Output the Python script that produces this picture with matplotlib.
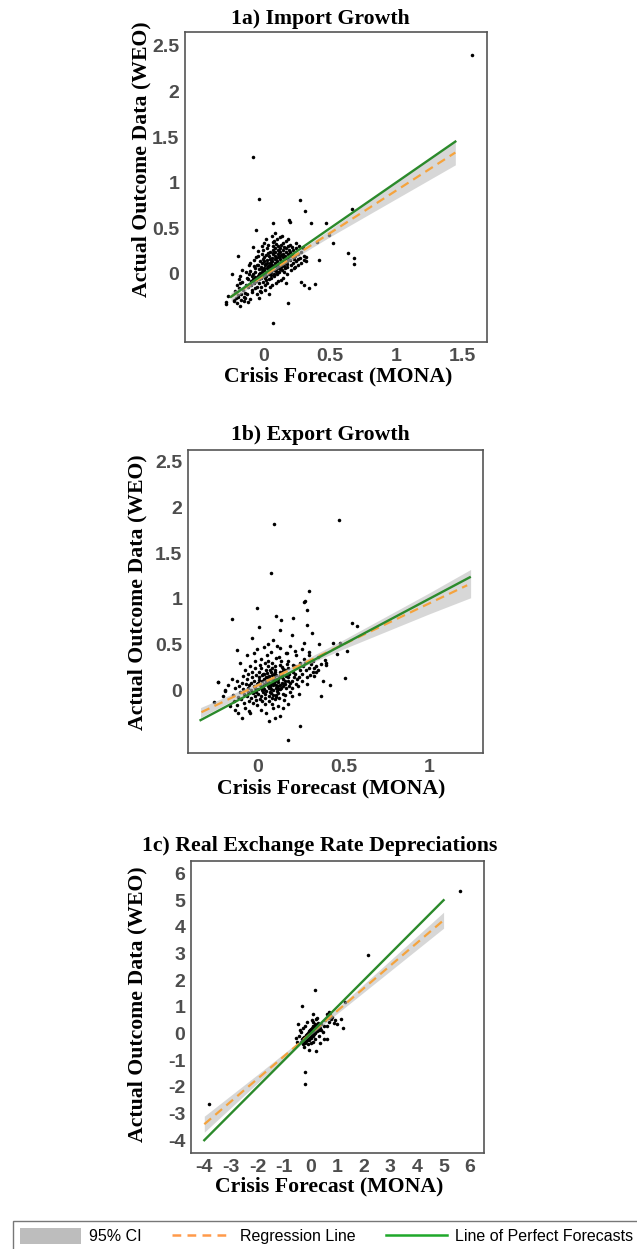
import numpy as np
import matplotlib
matplotlib.use("Agg")
import matplotlib.pyplot as plt
from matplotlib.patches import Patch
from matplotlib.lines import Line2D

plt.rcParams['axes.unicode_minus'] = False

# ---- 1a) import growth: (forecast, outcome) pairs
imp_pts = [
    (1.58, 2.40), (-0.086, 1.28), (-0.038, 0.82), (0.27, 0.81), (0.31, 0.69), (0.67, 0.71),
    (-0.06, 0.48), (0.07, 0.56), (0.19, 0.59), (0.20, 0.57), (0.36, 0.56), (0.40, 0.35),
    (0.47, 0.56), (0.49, 0.43), (0.52, 0.34), (0.64, 0.23), (0.68, 0.18), (0.68, 0.11),
    (0.42, 0.15), (0.39, -0.11), (0.34, -0.15), (0.30, -0.12), (0.28, -0.09), (0.18, -0.32),
    (0.066, -0.54), (-0.20, 0.20), (-0.24, 0.0), (-0.29, -0.31), (-0.29, -0.33), (-0.27, -0.24),
    (-0.18, -0.35), (-0.20, -0.23), (-0.23, -0.28),
    (-0.221, -0.182), (-0.214, -0.268), (-0.226, -0.301), (-0.205, -0.118),
    (-0.197, -0.247), (-0.203, -0.322), (-0.192, -0.051), (-0.188, -0.152),
    (-0.176, -0.221), (-0.183, -0.097), (-0.171, -0.284), (-0.179, -0.018),
    (-0.158, -0.176), (-0.163, -0.083), (-0.152, -0.297), (-0.167, 0.047), (-0.149, -0.251),
    (-0.138, -0.122), (-0.143, -0.204), (-0.133, 0.021), (-0.146, -0.262), (-0.129, -0.048),
    (-0.118, -0.147), (-0.123, -0.052), (-0.114, 0.098), (-0.127, -0.219), (-0.111, 0.004), (-0.119, -0.303),
    (-0.097, -0.081), (-0.104, 0.037), (-0.093, -0.178), (-0.108, 0.121), (-0.099, -0.118), (-0.091, -0.021),
    (-0.102, -0.279), (-0.078, -0.098), (-0.084, 0.003), (-0.073, 0.082), (-0.087, -0.197), (-0.076, 0.148),
    (-0.081, -0.053), (-0.069, -0.149), (-0.083, 0.297), (-0.058, -0.041), (-0.064, 0.062), (-0.055, -0.138),
    (-0.061, 0.183), (-0.052, -0.218), (-0.066, 0.018), (-0.057, -0.079), (-0.049, 0.103),
    (-0.038, 0.002), (-0.043, 0.099), (-0.035, -0.102), (-0.046, 0.201), (-0.032, -0.181), (-0.041, 0.052),
    (-0.036, -0.058), (-0.029, 0.139), (-0.044, 0.248), (-0.039, -0.262),
    (-0.018, 0.021), (-0.024, -0.048), (-0.015, 0.118), (-0.021, -0.142), (-0.012, 0.223), (-0.026, 0.071),
    (-0.017, -0.022), (-0.009, 0.162), (-0.023, -0.201), (-0.014, 0.301),
    (0.002, 0.041), (-0.004, -0.083), (0.006, 0.101), (-0.001, 0.003), (0.004, 0.182), (0.008, -0.118),
    (-0.006, 0.262), (0.001, 0.062), (0.009, -0.041), (0.003, 0.141), (-0.003, 0.338), (0.007, -0.179),
    (0.021, 0.062), (0.017, -0.021), (0.024, 0.122), (0.019, 0.203), (0.026, -0.098), (0.014, 0.019),
    (0.022, 0.281), (0.028, 0.091), (0.016, -0.061), (0.025, 0.152), (0.018, 0.381),
    (0.041, 0.083), (0.037, 0.002), (0.044, 0.161), (0.036, -0.058), (0.046, 0.241), (0.039, 0.041),
    (0.043, 0.118), (0.048, -0.139), (0.034, 0.322), (0.047, 0.101), (0.038, 0.198), (0.042, -0.221),
    (0.061, 0.102), (0.057, 0.018), (0.064, 0.179), (0.056, -0.041), (0.066, 0.262), (0.054, 0.061),
    (0.063, 0.142), (0.068, 0.351), (0.059, -0.121), (0.065, 0.219), (0.058, 0.079), (0.062, 0.418),
    (0.081, 0.121), (0.077, 0.041), (0.084, 0.198), (0.076, -0.019), (0.086, 0.279), (0.074, 0.082),
    (0.083, 0.161), (0.088, -0.098), (0.079, 0.362), (0.085, 0.241), (0.078, 0.003), (0.082, 0.452),
    (0.101, 0.139), (0.097, 0.062), (0.104, 0.221), (0.096, 0.001), (0.106, 0.302), (0.094, 0.099),
    (0.103, 0.182), (0.108, -0.079), (0.099, 0.381), (0.105, 0.262), (0.098, 0.022),
    (0.121, 0.161), (0.117, 0.079), (0.124, 0.239), (0.116, 0.018), (0.126, 0.318), (0.114, 0.121),
    (0.123, 0.201), (0.128, -0.061), (0.119, 0.401), (0.125, 0.052), (0.118, 0.281),
    (0.141, 0.182), (0.137, 0.098), (0.144, 0.262), (0.136, 0.041), (0.146, 0.341), (0.134, 0.138),
    (0.143, -0.042), (0.148, 0.219), (0.139, 0.421),
    (0.161, 0.201), (0.157, 0.118), (0.164, 0.279), (0.156, 0.061), (0.166, 0.362), (0.154, 0.019),
    (0.163, 0.161), (0.168, -0.101),
    (0.181, 0.222), (0.177, 0.139), (0.184, 0.301), (0.176, 0.079), (0.186, 0.378), (0.174, 0.002),
    (0.183, 0.179), (0.201, 0.241), (0.197, 0.158), (0.204, 0.101), (0.196, 0.318), (0.206, 0.041),
    (0.203, 0.198), (0.221, 0.259), (0.217, 0.181), (0.224, 0.119), (0.216, 0.298), (0.226, 0.062),
    (0.241, 0.281), (0.237, 0.202), (0.244, 0.141), (0.236, 0.081), (0.246, 0.338),
    (0.261, 0.219), (0.257, 0.161), (0.264, 0.302), (0.256, 0.098),
    (0.281, 0.238), (0.277, 0.179), (0.284, 0.121), (0.301, 0.199), (0.297, 0.281), (0.304, 0.148),
    (0.321, 0.181), (0.317, 0.139),
    # denser core of the blob
    (0.031, 0.071), (0.052, 0.131), (0.071, 0.052), (0.091, 0.171), (0.111, 0.089), (0.131, 0.211),
    (0.151, 0.142), (0.011, 0.111), (-0.011, 0.052), (0.072, 0.231), (0.093, 0.031), (0.112, 0.252),
    (0.132, 0.071), (0.152, 0.291), (0.171, 0.112), (0.051, -0.011), (0.029, 0.229), (0.009, -0.012),
    (-0.028, 0.011), (-0.048, -0.021), (-0.071, -0.028), (0.191, 0.262), (0.211, 0.221), (0.231, 0.161),
    (0.068, 0.301), (0.088, 0.331), (0.109, 0.021), (0.129, 0.131), (0.149, 0.082), (0.168, 0.242),
]
imp_reg_x = [-0.25, 1.45]
imp_reg_y = [-0.25, 1.33]
imp_perf = [-0.25, 1.45]
imp_band_x = [-0.25, 0.0, 0.1, 0.5, 1.0, 1.45]
imp_band_lo = [-0.295, -0.038, 0.057, 0.407, 0.822, 1.195]
imp_band_hi = [-0.205, 0.002, 0.093, 0.487, 1.002, 1.465]

# ---- 1b) export growth
exp_pts = [
    (0.095, 1.82), (0.475, 1.86), (0.08, 1.28), (0.30, 1.09), (0.28, 0.98), (0.27, 0.97),
    (0.29, 0.88), (0.0, 0.90), (-0.15, 0.78), (0.11, 0.81), (0.14, 0.77), (0.21, 0.79),
    (0.01, 0.69), (0.13, 0.66), (0.29, 0.71), (0.32, 0.63), (0.20, 0.60), (-0.03, 0.57),
    (-0.12, 0.44), (0.0, 0.45), (0.09, 0.55), (0.55, 0.73), (0.58, 0.70), (0.44, 0.51),
    (0.48, 0.52), (0.52, 0.43), (0.465, 0.40), (0.51, 0.135), (0.37, -0.06), (0.25, -0.39),
    (0.18, -0.55), (0.066, -0.34), (-0.087, -0.31), (-0.23, 0.09), (-0.25, -0.13), (-0.19, 0.0),
    (-0.04, -0.25), (0.36, 0.5), (0.395, 0.33), (0.40, 0.30), (0.33, 0.24), (0.33, 0.15),
    (-0.227, 0.09), (-0.19, -0.01), (-0.17, 0.05), (-0.16, -0.17), (-0.2, -0.06), (-0.15, 0.12),
    (-0.13, -0.22), (-0.11, -0.25), (-0.07, -0.2), (-0.05, -0.23), (0.02, -0.22), (0.05, -0.25),
    (0.09, -0.2), (0.12, -0.18), (0.15, -0.2), (0.18, -0.15), (0.13, -0.28), (0.1, -0.31),
    (0.06, 0.5), (0.13, 0.46), (0.17, 0.41), (0.22, 0.43), (0.26, 0.45), (0.3, 0.42), (0.35, 0.36),
    (0.27, 0.52), (0.19, 0.48), (0.04, 0.47), (-0.06, 0.38), (-0.1, 0.3), (-0.02, 0.41),
    (0.37, 0.28), (0.40, 0.27), (0.34, 0.2), (0.38, 0.1), (0.42, 0.05),
    (-0.142, -0.051), (-0.128, 0.021), (-0.136, -0.118), (-0.119, 0.102), (-0.112, -0.081),
    (-0.105, 0.042), (-0.121, -0.162), (-0.098, -0.021), (-0.089, 0.081), (-0.094, -0.102),
    (-0.082, 0.151), (-0.076, -0.041), (-0.086, 0.012), (-0.071, 0.221), (-0.079, -0.142),
    (-0.068, 0.062), (-0.058, -0.062), (-0.062, 0.121), (-0.054, 0.018), (-0.049, -0.118),
    (-0.057, 0.181), (-0.046, 0.052), (-0.052, -0.021), (-0.041, 0.262), (-0.038, 0.082),
    (-0.034, -0.082), (-0.029, 0.142), (-0.036, 0.001), (-0.026, -0.141), (-0.031, 0.201),
    (-0.022, 0.041), (-0.027, -0.038), (-0.018, 0.102), (-0.014, -0.061), (-0.009, 0.161),
    (-0.016, 0.021), (-0.006, -0.112), (-0.011, 0.238), (-0.003, 0.062), (-0.008, -0.019),
    (-0.012, 0.319), (0.002, 0.081), (0.006, -0.042), (0.011, 0.141), (0.004, 0.012),
    (0.014, -0.101), (0.009, 0.201), (0.017, 0.052), (0.001, -0.162), (0.013, 0.279), (0.007, 0.111),
    (0.021, 0.021), (0.026, 0.162), (0.019, -0.062), (0.029, 0.098), (0.023, 0.238), (0.031, -0.021),
    (0.018, 0.061), (0.027, -0.122), (0.033, 0.181), (0.024, 0.338), (0.028, 0.002),
    (0.041, 0.121), (0.046, -0.041), (0.039, 0.062), (0.049, 0.221), (0.043, -0.092), (0.051, 0.141),
    (0.038, 0.011), (0.047, 0.298), (0.053, 0.081), (0.044, -0.152), (0.036, 0.178), (0.052, -0.011),
    (0.061, 0.102), (0.066, 0.018), (0.059, 0.182), (0.069, -0.062), (0.063, 0.259), (0.071, 0.041),
    (0.058, 0.138), (0.067, -0.121), (0.073, 0.218), (0.064, 0.072), (0.056, 0.381), (0.072, -0.018),
    (0.062, 0.322), (0.081, 0.061), (0.086, 0.161), (0.079, -0.031), (0.089, 0.118), (0.083, 0.241),
    (0.091, 0.002), (0.078, 0.199), (0.087, -0.088), (0.093, 0.082), (0.084, 0.301), (0.076, 0.029),
    (0.092, 0.141), (0.082, 0.421), (0.088, -0.151), (0.101, 0.101), (0.106, 0.022), (0.099, 0.178),
    (0.109, -0.052), (0.103, 0.262), (0.111, 0.058), (0.098, 0.139), (0.107, 0.351), (0.113, -0.012),
    (0.104, 0.219), (0.096, 0.081), (0.112, 0.481), (0.102, -0.101), (0.121, 0.041), (0.126, 0.141),
    (0.119, -0.031), (0.129, 0.201), (0.123, 0.091), (0.131, 0.279), (0.118, 0.008), (0.127, -0.082),
    (0.133, 0.162), (0.124, 0.362), (0.116, 0.119), (0.132, 0.052), (0.141, 0.081), (0.146, 0.198),
    (0.139, 0.018), (0.149, -0.041), (0.143, 0.251), (0.151, 0.121), (0.138, 0.318), (0.147, 0.042),
    (0.153, -0.112), (0.144, 0.162), (0.161, 0.101), (0.166, 0.021), (0.159, 0.221), (0.169, 0.159),
    (0.163, -0.058), (0.171, 0.281), (0.158, 0.061), (0.167, 0.402), (0.181, 0.138), (0.186, 0.041),
    (0.179, 0.241), (0.189, -0.021), (0.183, 0.181), (0.191, 0.082), (0.178, 0.319), (0.201, 0.101),
    (0.206, 0.201), (0.199, 0.021), (0.209, 0.279), (0.203, -0.068), (0.211, 0.141), (0.221, 0.181),
    (0.226, 0.062), (0.219, 0.259), (0.229, 0.121), (0.223, 0.381), (0.241, 0.138), (0.246, 0.221),
    (0.239, 0.041), (0.249, 0.301), (0.243, -0.042), (0.261, 0.181), (0.266, 0.259), (0.259, 0.098),
    (0.269, 0.341), (0.281, 0.219), (0.286, 0.138), (0.279, 0.301), (0.289, 0.062), (0.301, 0.241),
    (0.306, 0.162), (0.299, 0.381), (0.311, 0.282), (0.321, 0.201), (0.326, 0.318), (0.341, 0.262),
    (0.351, 0.221),
    # denser core of the blob
    (0.071, 0.121), (0.091, 0.051), (0.111, 0.161), (0.131, 0.009), (0.081, 0.011), (0.101, 0.201),
    (0.121, 0.122), (0.061, 0.049), (0.141, 0.139), (0.051, 0.101), (0.031, 0.041), (0.011, 0.061),
    (0.161, 0.061), (0.181, 0.099), (0.091, -0.051), (0.111, -0.081), (0.069, 0.151), (0.149, 0.231),
]
exp_reg_x = [-0.325, 1.22]
exp_reg_y = [-0.243, 1.148]
exp_perf = [-0.33, 1.235]
exp_band_x = [-0.33, 0.0, 0.1, 0.5, 1.0, 1.24]
exp_band_lo = [-0.302, 0.025, 0.12, 0.45, 0.835, 1.011]
exp_band_hi = [-0.192, 0.075, 0.16, 0.55, 1.065, 1.321]

# ---- 1c) real exchange rate depreciations
rer_pts = [
    (5.61, 5.36), (2.17, 2.95), (-3.81, -2.65), (0.15, 1.65), (-0.31, 1.04), (1.29, 1.19),
    (-0.21, -1.45), (-0.21, -1.9), (1.14, 0.56), (1.23, 0.21), (0.88, 0.4), (0.6, 0.75),
    (0.70, 0.79), (0.075, 0.74), (-0.49, 0.34), (-0.56, -0.15), (-0.05, -0.6), (0.19, -0.64),
    (0.60, -0.2),
    (-0.35, -0.32), (-0.32, -0.22), (-0.30, -0.38), (-0.28, -0.18), (-0.26, -0.30), (-0.25, -0.12),
    (-0.24, -0.26), (-0.22, -0.35), (-0.21, -0.15), (-0.20, -0.22), (-0.19, -0.08), (-0.18, -0.28),
    (-0.17, -0.18), (-0.16, -0.05), (-0.15, -0.24), (-0.14, -0.12), (-0.13, -0.02), (-0.12, -0.20),
    (-0.11, -0.09), (-0.10, 0.02), (-0.10, -0.16), (-0.09, -0.06), (-0.08, -0.25), (-0.08, 0.05),
    (-0.07, -0.12), (-0.06, -0.02), (-0.06, -0.18), (-0.05, 0.08), (-0.05, -0.08), (-0.04, -0.14),
    (-0.04, 0.02), (-0.03, -0.05), (-0.03, 0.12), (-0.02, -0.10), (-0.02, 0.04), (-0.01, -0.02),
    (-0.01, 0.15), (0.00, -0.06), (0.00, 0.06), (0.00, -0.15), (0.01, 0.01), (0.01, 0.10),
    (0.02, -0.04), (0.02, 0.18), (0.03, 0.05), (0.03, -0.10), (0.04, 0.12), (0.04, 0.00),
    (0.05, 0.22), (0.05, 0.07), (0.06, -0.05), (0.06, 0.15), (0.07, 0.03), (0.07, 0.25),
    (0.08, 0.10), (0.08, -0.08), (0.09, 0.18), (0.10, 0.05), (0.10, 0.30), (0.11, 0.12),
    (0.12, 0.00), (0.12, 0.22), (0.13, 0.08), (0.14, 0.28), (0.15, 0.15), (0.16, 0.02),
    (0.17, 0.20), (0.18, 0.35), (0.19, 0.10), (0.20, 0.25), (0.22, 0.18), (0.24, 0.32),
    (0.25, 0.08), (0.27, 0.22), (0.29, 0.40), (0.30, 0.15), (0.32, 0.28), (0.35, 0.20),
    (0.38, 0.35), (0.40, 0.12),
    (-0.45, -0.1), (-0.4, 0.15), (-0.5, -0.3), (-0.3, 0.2), (-0.2, 0.3), (-0.15, 0.45),
    (0.05, 0.5), (0.1, 0.45), (0.2, 0.55), (-0.1, -0.4), (0.0, -0.35), (0.1, -0.3),
    (0.15, -0.2), (0.3, -0.1), (0.45, 0.05), (0.5, 0.3), (0.55, 0.5), (0.65, 0.6),
    (0.7, 0.45), (0.75, 0.55), (0.8, 0.62), (0.72, 0.68), (0.6, 0.3), (0.5, -0.2),
    (-0.25, -0.5), (0.35, -0.35), (0.25, 0.6), (-0.35, 0.05), (0.9, 0.5), (1.0, 0.35),
]
rer_reg_x = [-4.0, 5.0]
rer_reg_y = [-3.4, 4.25]
rer_perf = [-4.0, 5.0]
rer_band_x = [-4.0, -2.0, 0.0, 2.0, 5.0]
rer_band_lo = [-3.7, -1.86, -0.05, 1.55, 3.95]
rer_band_hi = [-3.1, -1.54, 0.05, 1.85, 4.55]

W, H = 637, 1249
fig = plt.figure(figsize=(W / 100, H / 100), dpi=100)

serif = dict(family='Liberation Serif', weight='bold', size=15.7)
tick_font = dict(family='Liberation Sans', weight='bold', size=14)

green = '#2b8a2b'
orange = '#f5a33d'


def draw_panel(box, pts, band, reg, perf, xlim, ylim, xticks, yticks,
               title, title_y, xlab_pos, ylab_pos):
    l, r, t, b = box
    ax = fig.add_axes([l / W, 1 - b / H, (r - l) / W, (b - t) / H])
    p = np.array(pts)
    ax.scatter(p[:, 0], p[:, 1], s=6.5, color='black', linewidths=0, zorder=2)
    ax.fill_between(band[0], band[1], band[2], color='#bdbdbd', alpha=0.6,
                    linewidth=0, zorder=3)
    ax.plot(reg[0], reg[1], color=orange, lw=1.6, dashes=(4, 2.5), zorder=4)
    ax.plot(perf, perf, color=green, lw=1.7, zorder=5)
    ax.set_xlim(*xlim)
    ax.set_ylim(*ylim)
    ax.set_xticks(xticks)
    ax.set_yticks(yticks)
    ax.set_xticklabels(['%g' % v for v in xticks], **tick_font)
    ax.set_yticklabels(['%g' % v for v in yticks], **tick_font)
    ax.tick_params(length=0, colors='#4d4d4d', pad=4)
    for s in ax.spines.values():
        s.set_color('#555555')
        s.set_linewidth(1.2)
    fig.text(320 / W, 1 - title_y / H, title, ha='center', va='baseline', **serif)
    fig.text(xlab_pos[0] / W, 1 - xlab_pos[1] / H, 'Crisis Forecast (MONA)',
             ha='center', va='baseline', **serif)
    fig.text(ylab_pos[0] / W, 1 - ylab_pos[1] / H, 'Actual Outcome Data (WEO)',
             ha='center', va='center', rotation=90, **serif)
    return ax


draw_panel((185, 487, 32, 342), imp_pts,
           (imp_band_x, imp_band_lo, imp_band_hi), (imp_reg_x, imp_reg_y), imp_perf,
           (-0.598, 1.69), (-0.745, 2.65), [0, 0.5, 1, 1.5], [0, 0.5, 1, 1.5, 2, 2.5],
           '1a) Import Growth', 24, (338, 381.5), (141, 159))

draw_panel((188, 483, 450, 753), exp_pts,
           (exp_band_x, exp_band_lo, exp_band_hi), (exp_reg_x, exp_reg_y), exp_perf,
           (-0.403, 1.312), (-0.69, 2.63), [0, 0.5, 1], [0, 0.5, 1, 1.5, 2, 2.5],
           '1b) Export Growth', 440.5, (331, 793), (137, 592))

draw_panel((191, 484, 861, 1153), rer_pts,
           (rer_band_x, rer_band_lo, rer_band_hi), (rer_reg_x, rer_reg_y), rer_perf,
           (-4.5, 6.52), (-4.48, 6.47), list(range(-4, 7)), list(range(-4, 7)),
           '1c) Real Exchange Rate Depreciations', 851.5, (329, 1191.5), (137, 1004))

handles = [
    Patch(facecolor='#bdbdbd', edgecolor='none', label='95% CI'),
    Line2D([], [], color='#ff9a4a', lw=1.8, dashes=(3.5, 2.5), label='Regression Line'),
    Line2D([], [], color='#1fa82a', lw=1.8, label='Line of Perfect Forecasts'),
]
leg = fig.legend(handles=handles, loc='upper left', ncol=3,
                 bbox_to_anchor=(12.7 / W, 1 - 1220.7 / H),
                 prop=dict(family='Liberation Sans', size=11.5),
                 handlelength=3.8, handleheight=1.15, handletextpad=0.5,
                 columnspacing=1.9, borderpad=0.45, borderaxespad=0,
                 frameon=True, fancybox=False)
leg.get_frame().set_edgecolor('#555555')
leg.get_frame().set_linewidth(1.0)

fig.savefig('out.png', dpi=100)
